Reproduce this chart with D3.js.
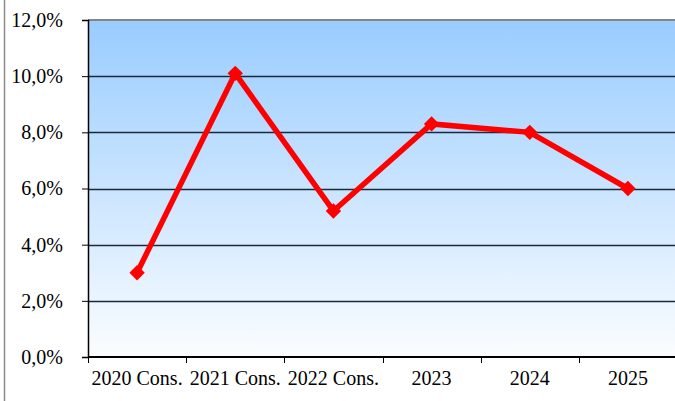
<!DOCTYPE html>
<html>
<head>
<meta charset="utf-8">
<script src="https://cdn.jsdelivr.net/npm/d3@7"></script>
<style>
  html, body { margin: 0; padding: 0; background: #fff; }
  svg { display: block; }
</style>
</head>
<body>
<svg id="chart" width="675" height="401"></svg>
<script>
// data
const categories = ["2020 Cons.", "2021 Cons.", "2022 Cons.", "2023", "2024", "2025"];
const growth = [3.0, 10.1, 5.2, 8.3, 8.0, 6.0];
const yTicks = [0, 2, 4, 6, 8, 10, 12];

const width = 675, height = 401;
const margin = { top: 20, right: -2, bottom: 44, left: 88 };

const svg = d3.select("#chart");

// outer chart border (only left edge visible)
svg.append("line")
    .attr("x1", 4.5).attr("x2", 4.5)
    .attr("y1", 0).attr("y2", height)
    .attr("stroke", "#8c8c8c")
    .attr("stroke-width", 1.5);

const x = d3.scaleBand()
    .domain(categories)
    .range([margin.left, width - margin.right]);

const y = d3.scaleLinear()
    .domain([0, 12])
    .range([height - margin.bottom, margin.top]);

// background gradient
const defs = svg.append("defs");
const grad = defs.append("linearGradient")
    .attr("id", "bg")
    .attr("x1", 0).attr("y1", 0)
    .attr("x2", 0).attr("y2", 1);
grad.append("stop").attr("offset", "0%").attr("stop-color", "#99ccff");
grad.append("stop").attr("offset", "100%").attr("stop-color", "#fbfdff");

svg.append("rect")
    .attr("x", margin.left)
    .attr("y", y(12))
    .attr("width", width - margin.right - margin.left)
    .attr("height", y(0) - y(12))
    .attr("fill", "url(#bg)");

// gridlines
svg.append("g")
    .selectAll("line")
    .data(yTicks.filter(d => d > 0 && d < 12))
    .join("line")
    .attr("x1", margin.left)
    .attr("x2", width)
    .attr("y1", d => Math.round(y(d)) + 0.5)
    .attr("y2", d => Math.round(y(d)) + 0.5)
    .attr("stroke", "#1a2a3a")
    .attr("stroke-width", 1.3);

// top border
svg.append("line")
    .attr("x1", margin.left).attr("x2", width)
    .attr("y1", y(12)).attr("y2", y(12))
    .attr("stroke", "#858585")
    .attr("stroke-width", 2);

// y axis
const yAxis = svg.append("g")
    .attr("transform", `translate(${margin.left},0)`)
    .call(d3.axisLeft(y)
        .tickValues(yTicks)
        .tickSize(6)
        .tickPadding(19)
        .tickFormat(d => d3.format(".1f")(d).replace(".", ",") + "%"));
yAxis.select(".domain").attr("stroke", "#000").attr("stroke-width", 1.5);
yAxis.selectAll(".tick line").attr("stroke", "#000");
yAxis.selectAll("text")
    .attr("font-family", "Liberation Serif, Times New Roman, serif")
    .attr("font-size", 20)
    .attr("fill", "#000");

// x axis
const xAxis = svg.append("g")
    .attr("transform", `translate(0,${y(0)})`)
    .call(d3.axisBottom(x).tickSize(0).tickPadding(14));
xAxis.select(".domain").remove();
xAxis.selectAll("text")
    .attr("font-family", "Liberation Serif, Times New Roman, serif")
    .attr("font-size", 20)
    .attr("fill", "#000");

svg.append("line")
    .attr("x1", margin.left).attr("x2", width)
    .attr("y1", y(0)).attr("y2", y(0))
    .attr("stroke", "#000")
    .attr("stroke-width", 1.8);

svg.append("g")
    .selectAll("line")
    .data(categories)
    .join("line")
    .attr("x1", d => Math.round(x(d)) + 0.5)
    .attr("x2", d => Math.round(x(d)) + 0.5)
    .attr("y1", y(0))
    .attr("y2", y(0) + 6)
    .attr("stroke", "#000");

// line series
const cx = d => x(d) + x.bandwidth() / 2;
const points = categories.map((c, i) => [cx(c), y(growth[i])]);

svg.append("path")
    .datum(points)
    .attr("d", d3.line())
    .attr("fill", "none")
    .attr("stroke", "#ff0000")
    .attr("stroke-width", 5.5)
    .attr("stroke-linejoin", "miter");

svg.append("g")
    .selectAll("path")
    .data(points)
    .join("path")
    .attr("transform", d => `translate(${d[0]},${d[1]})`)
    .attr("d", d3.symbol(d3.symbolDiamond2, 150))
    .attr("fill", "#ff0000");
</script>
</body>
</html>
